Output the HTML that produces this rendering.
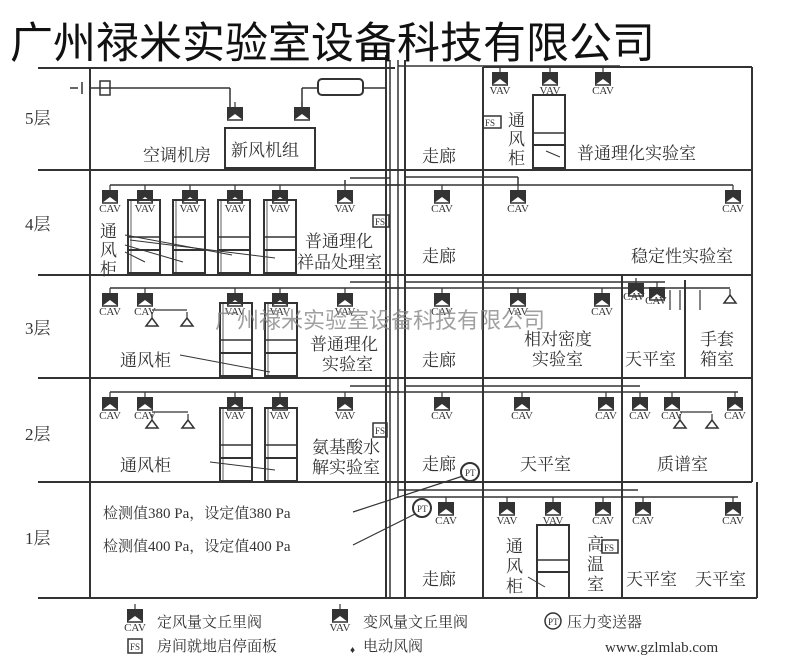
<!DOCTYPE html>
<html><head><meta charset="utf-8"><style>
html,body{margin:0;padding:0;background:#fff;}
svg{display:block;}
text{font-family:"Liberation Serif","Noto Serif CJK SC",serif;fill:#333;}
.s{font-family:"Liberation Sans","Noto Sans CJK SC",sans-serif;}
</style></head><body>
<svg width="800" height="665" viewBox="0 0 800 665" xmlns="http://www.w3.org/2000/svg">
<defs>
<g id="v"><rect x="-8" y="-1" width="16" height="3" fill="#333"/><path d="M-8,2 L-8,12 L0,6 L8,12 L8,2 Z" fill="#333"/><path d="M-8,12 L8,12" stroke="#333" stroke-width="1.5"/><line x1="0" y1="-6" x2="0" y2="-1" stroke="#333" stroke-width="1.2"/></g>
<g id="sp"><line x1="0" y1="-6" x2="0" y2="0" stroke="#333" stroke-width="1.2"/><path d="M-6,8 L0,0 L6,8 Z" fill="none" stroke="#333" stroke-width="1.5"/></g>
<g id="fh"><rect x="0" y="0" width="32" height="73" fill="none" stroke="#333" stroke-width="2"/><line x1="0" y1="37" x2="32" y2="37" stroke="#333" stroke-width="1.5"/><line x1="0" y1="50" x2="32" y2="50" stroke="#333" stroke-width="2"/><line x1="3" y1="0" x2="3" y2="73" stroke="#333" stroke-width="0.8"/></g>
</defs>
<g stroke="#333" stroke-width="2" fill="none">
<line x1="38" y1="68" x2="395" y2="68"/>
<line x1="38" y1="170" x2="752" y2="170"/>
<line x1="38" y1="275" x2="752" y2="275"/>
<line x1="38" y1="378" x2="752" y2="378"/>
<line x1="38" y1="482" x2="752" y2="482"/>
<line x1="38" y1="598" x2="757" y2="598"/>
<line x1="90" y1="68" x2="90" y2="598"/>
<line x1="752" y1="67" x2="752" y2="482"/>
<line x1="757" y1="482" x2="757" y2="598"/>
<line x1="483" y1="67" x2="752" y2="67"/>
<line x1="386" y1="55" x2="386" y2="598"/>
<line x1="390" y1="60" x2="390" y2="598" stroke-width="1.5"/>
<line x1="398" y1="60" x2="398" y2="490" stroke-width="1.5"/>
<line x1="405" y1="60" x2="405" y2="598"/>
<line x1="483" y1="67" x2="483" y2="598"/>
<line x1="622" y1="275" x2="622" y2="598"/>
<line x1="685" y1="280" x2="685" y2="378"/>
<line x1="70" y1="88" x2="78" y2="88" stroke-width="1.5"/>
<line x1="82" y1="82" x2="82" y2="94" stroke-width="1.5"/>
<line x1="90" y1="88" x2="230" y2="88" stroke-width="1.5"/>
<line x1="230" y1="88" x2="230" y2="110" stroke-width="1.5"/>
<rect x="100" y="81" width="10" height="14" stroke-width="1.5"/>
<line x1="302" y1="88" x2="318" y2="88" stroke-width="1.5"/>
<line x1="302" y1="88" x2="302" y2="110" stroke-width="1.5"/>
<rect x="318" y="79" width="45" height="16" rx="4"/>
<line x1="363" y1="88" x2="386" y2="88" stroke-width="1.5"/>
<rect x="225" y="128" width="90" height="40"/>
<line x1="398" y1="66" x2="620" y2="66" stroke-width="1.5"/>
<rect x="533" y="95" width="32" height="73"/>
<line x1="533" y1="133" x2="565" y2="133" stroke-width="1.5"/>
<line x1="533" y1="145" x2="565" y2="145" stroke-width="2"/>
<rect x="483" y="116" width="18" height="12" stroke-width="1.5"/>
<line x1="110" y1="185" x2="400" y2="185" stroke-width="1.5"/>
<line x1="345" y1="180" x2="345" y2="185" stroke-width="1.5"/>
<line x1="350" y1="178" x2="390" y2="178" stroke-width="1.5"/>
<line x1="386" y1="185" x2="733" y2="185" stroke-width="1.5"/>
<line x1="405" y1="177" x2="518" y2="177" stroke-width="1.5"/>
<line x1="518" y1="177" x2="518" y2="185" stroke-width="1.5"/>
<rect x="373" y="215" width="16" height="12" stroke-width="1.5"/>
<line x1="110" y1="288" x2="400" y2="288" stroke-width="1.5"/>
<line x1="350" y1="282" x2="390" y2="282" stroke-width="1.5"/>
<line x1="386" y1="288" x2="730" y2="288" stroke-width="1.5"/>
<line x1="405" y1="282" x2="665" y2="282" stroke-width="1.5"/>
<line x1="152" y1="310" x2="187" y2="310" stroke-width="1.2"/>
<line x1="670" y1="290" x2="670" y2="310" stroke-width="1.2"/>
<line x1="680" y1="290" x2="680" y2="310" stroke-width="1.2"/>
<line x1="700" y1="290" x2="700" y2="310" stroke-width="1.2"/>
<line x1="110" y1="392" x2="400" y2="392" stroke-width="1.5"/>
<line x1="350" y1="386" x2="390" y2="386" stroke-width="1.5"/>
<line x1="386" y1="392" x2="738" y2="392" stroke-width="1.5"/>
<line x1="405" y1="386" x2="640" y2="386" stroke-width="1.5"/>
<line x1="152" y1="412" x2="188" y2="412" stroke-width="1.2"/>
<line x1="680" y1="412" x2="712" y2="412" stroke-width="1.2"/>
<rect x="373" y="423" width="14" height="14" stroke-width="1.5"/>
<line x1="398" y1="490" x2="638" y2="490" stroke-width="1.5"/>
<line x1="405" y1="497" x2="738" y2="497" stroke-width="1.5"/>
<line x1="398" y1="490" x2="398" y2="497" stroke-width="1.5"/>
<circle cx="470" cy="472" r="9"/>
<circle cx="422" cy="508" r="9"/>
<line x1="353" y1="512" x2="463" y2="476" stroke-width="1.2"/>
<line x1="353" y1="545" x2="415" y2="514" stroke-width="1.2"/>
<rect x="537" y="525" width="32" height="73"/>
<line x1="537" y1="560" x2="569" y2="560" stroke-width="1.5"/>
<line x1="537" y1="572" x2="569" y2="572" stroke-width="2"/>
<rect x="602" y="540" width="16" height="13" stroke-width="1.5"/>
<line x1="125" y1="235" x2="232" y2="255" stroke-width="1"/>
<line x1="125" y1="245" x2="183" y2="262" stroke-width="1"/>
<line x1="125" y1="252" x2="145" y2="262" stroke-width="1"/>
<line x1="130" y1="240" x2="275" y2="258" stroke-width="1"/>
<line x1="180" y1="355" x2="270" y2="372" stroke-width="1"/>
<line x1="210" y1="462" x2="275" y2="470" stroke-width="1"/>
<line x1="528" y1="577" x2="545" y2="587" stroke-width="1"/>
<line x1="546" y1="151" x2="560" y2="157" stroke-width="1"/>
<rect x="128" y="639" width="14" height="14" stroke-width="1.5"/>
<circle cx="553" cy="621" r="8" stroke-width="1.5"/>
</g>
<use href="#fh" x="128" y="200"/><use href="#fh" x="173" y="200"/><use href="#fh" x="218" y="200"/><use href="#fh" x="264" y="200"/>
<use href="#fh" x="220" y="303"/><use href="#fh" x="265" y="303"/>
<use href="#fh" x="220" y="408"/><use href="#fh" x="265" y="408"/>
<g>
<use href="#v" x="235" y="108"/><use href="#v" x="302" y="108"/>
<use href="#v" x="500" y="73"/><use href="#v" x="550" y="73"/><use href="#v" x="603" y="73"/>
<use href="#v" x="110" y="191"/><use href="#v" x="145" y="191"/><use href="#v" x="190" y="191"/><use href="#v" x="235" y="191"/><use href="#v" x="280" y="191"/><use href="#v" x="345" y="191"/>
<use href="#v" x="442" y="191"/><use href="#v" x="518" y="191"/><use href="#v" x="733" y="191"/>
<use href="#v" x="110" y="294"/><use href="#v" x="145" y="294"/><use href="#v" x="235" y="294"/><use href="#v" x="280" y="294"/><use href="#v" x="345" y="294"/>
<use href="#v" x="442" y="294"/><use href="#v" x="518" y="294"/><use href="#v" x="602" y="294"/><use href="#v" x="636" y="284"/><use href="#v" x="657" y="288"/>
<use href="#v" x="110" y="398"/><use href="#v" x="145" y="398"/><use href="#v" x="235" y="398"/><use href="#v" x="280" y="398"/><use href="#v" x="345" y="398"/>
<use href="#v" x="442" y="398"/><use href="#v" x="522" y="398"/><use href="#v" x="606" y="398"/><use href="#v" x="640" y="398"/><use href="#v" x="672" y="398"/><use href="#v" x="735" y="398"/>
<use href="#v" x="446" y="503"/><use href="#v" x="507" y="503"/><use href="#v" x="553" y="503"/><use href="#v" x="603" y="503"/><use href="#v" x="643" y="503"/><use href="#v" x="733" y="503"/>
<use href="#v" x="135" y="610"/><use href="#v" x="340" y="610"/>
</g>
<use href="#sp" x="152" y="318"/><use href="#sp" x="187" y="318"/><use href="#sp" x="730" y="295"/>
<use href="#sp" x="152" y="420"/><use href="#sp" x="188" y="420"/><use href="#sp" x="680" y="420"/><use href="#sp" x="712" y="420"/>
<g font-size="11">
<text x="110" y="212" text-anchor="middle">CAV</text><text x="145" y="212" text-anchor="middle">VAV</text><text x="190" y="212" text-anchor="middle">VAV</text><text x="235" y="212" text-anchor="middle">VAV</text><text x="280" y="212" text-anchor="middle">VAV</text><text x="345" y="212" text-anchor="middle">VAV</text>
<text x="442" y="212" text-anchor="middle">CAV</text><text x="518" y="212" text-anchor="middle">CAV</text><text x="733" y="212" text-anchor="middle">CAV</text>
<text x="500" y="94" text-anchor="middle">VAV</text><text x="550" y="94" text-anchor="middle">VAV</text><text x="603" y="94" text-anchor="middle">CAV</text>
<text x="110" y="315" text-anchor="middle">CAV</text><text x="145" y="315" text-anchor="middle">CAV</text><text x="235" y="315" text-anchor="middle">VAV</text><text x="280" y="315" text-anchor="middle">VAV</text><text x="345" y="315" text-anchor="middle">VAV</text>
<text x="442" y="315" text-anchor="middle">CAV</text><text x="518" y="315" text-anchor="middle">VAV</text><text x="602" y="315" text-anchor="middle">CAV</text><text x="634" y="300" text-anchor="middle">CAV</text><text x="656" y="304" text-anchor="middle">CAV</text>
<text x="110" y="419" text-anchor="middle">CAV</text><text x="145" y="419" text-anchor="middle">CAV</text><text x="235" y="419" text-anchor="middle">VAV</text><text x="280" y="419" text-anchor="middle">VAV</text><text x="345" y="419" text-anchor="middle">VAV</text>
<text x="442" y="419" text-anchor="middle">CAV</text><text x="522" y="419" text-anchor="middle">CAV</text><text x="606" y="419" text-anchor="middle">CAV</text><text x="640" y="419" text-anchor="middle">CAV</text><text x="672" y="419" text-anchor="middle">CAV</text><text x="735" y="419" text-anchor="middle">CAV</text>
<text x="446" y="524" text-anchor="middle">CAV</text><text x="507" y="524" text-anchor="middle">VAV</text><text x="553" y="524" text-anchor="middle">VAV</text><text x="603" y="524" text-anchor="middle">CAV</text><text x="643" y="524" text-anchor="middle">CAV</text><text x="733" y="524" text-anchor="middle">CAV</text>
<text x="135" y="631" text-anchor="middle">CAV</text><text x="340" y="631" text-anchor="middle">VAV</text>
<text x="485" y="126" font-size="9">FS</text><text x="375" y="225" font-size="9">FS</text><text x="375" y="434" font-size="9">FS</text><text x="604" y="551" font-size="9">FS</text><text x="130" y="650" font-size="9">FS</text>
<text x="548" y="625" font-size="9">PT</text><text x="465" y="476" font-size="9">PT</text><text x="417" y="512" font-size="9">PT</text>
</g>
<g font-size="17">
<text x="25" y="124">5层</text><text x="25" y="230">4层</text><text x="25" y="334">3层</text><text x="25" y="440">2层</text><text x="25" y="544">1层</text>
<text x="143" y="161">空调机房</text><text x="231" y="156">新风机组</text>
<text x="422" y="162">走廊</text><text x="422" y="262">走廊</text><text x="422" y="366">走廊</text><text x="422" y="470">走廊</text><text x="422" y="585">走廊</text>
<text x="577" y="159">普通理化实验室</text>
<text x="508" y="126">通</text><text x="508" y="145">风</text><text x="508" y="164">柜</text>
<text x="100" y="237">通</text><text x="100" y="256">风</text><text x="100" y="275">柜</text>
<text x="305" y="247">普通理化</text><text x="297" y="268">祥品处理室</text>
<text x="631" y="262">稳定性实验室</text>
<text x="120" y="366">通风柜</text>
<text x="310" y="350">普通理化</text><text x="322" y="370">实验室</text>
<text x="524" y="345">相对密度</text><text x="532" y="365">实验室</text>
<text x="625" y="365">天平室</text><text x="700" y="345">手套</text><text x="700" y="365">箱室</text>
<text x="120" y="471">通风柜</text>
<text x="312" y="453">氨基酸水</text><text x="312" y="473">解实验室</text>
<text x="520" y="470">天平室</text><text x="657" y="470">质谱室</text>
<text x="506" y="552">通</text><text x="506" y="572">风</text><text x="506" y="592">柜</text>
<text x="587" y="550">高</text><text x="587" y="570">温</text><text x="587" y="590">室</text>
<text x="626" y="585">天平室</text><text x="695" y="585">天平室</text>
</g>
<g font-size="15">
<text x="103" y="518">检测值380 Pa，设定值380 Pa</text>
<text x="103" y="551">检测值400 Pa，设定值400 Pa</text>
<text x="157" y="627">定风量文丘里阀</text><text x="363" y="627">变风量文丘里阀</text><text x="567" y="627">压力变送器</text>
<text x="157" y="651">房间就地启停面板</text><text x="363" y="651">电动风阀</text>
</g>
<text x="350" y="653" font-size="10">♦</text>
<text x="605" y="652" font-size="15" font-family="Liberation Mono,monospace">www.gzlmlab.com</text>
<text class="s" x="10" y="58" font-size="43" style="fill:#111">广州禄米实验室设备科技有限公司</text>
<text class="s" x="215" y="328" font-size="22" style="fill:#888" fill-opacity="0.8">广州禄米实验室设备科技有限公司</text>
</svg>
</body></html>
